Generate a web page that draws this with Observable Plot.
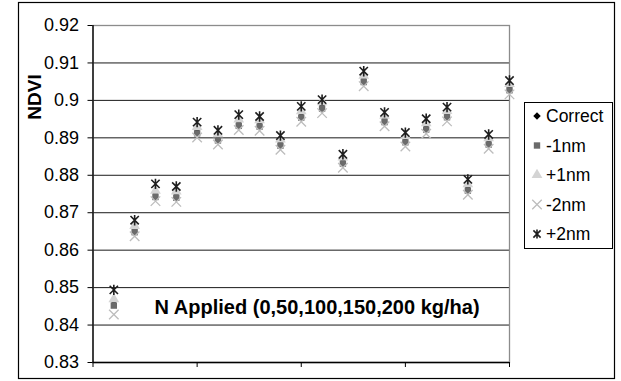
<!DOCTYPE html>
<html><head><meta charset="utf-8">
<script src="https://cdn.jsdelivr.net/npm/d3@7"></script>
<script src="https://cdn.jsdelivr.net/npm/@observablehq/plot@0.6"></script>
<style>
html,body{margin:0;padding:0;background:#fff;}
#chart{position:relative;width:621px;height:381px;}
</style></head><body><div id="chart"></div>
<script>
// ---- data ----
const plotIndex = [1,2,3,4,5,6,7,8,9,10,11,12,13,14,15,16,17,18,19,20];
const correct = [0.8464,0.8660,0.8754,0.8752,0.8924,0.8905,0.8944,0.8942,0.8891,0.8966,0.8990,0.8843,0.9061,0.8954,0.8900,0.8934,0.8967,0.8771,0.8894,0.9039];
const minus1 = [0.8452,0.8648,0.8742,0.8740,0.8912,0.8893,0.8932,0.8930,0.8879,0.8954,0.8978,0.8831,0.9049,0.8942,0.8888,0.8922,0.8955,0.8759,0.8882,0.9027];
const plus1 = [0.8469,0.8665,0.8759,0.8757,0.8929,0.8910,0.8949,0.8947,0.8896,0.8971,0.8995,0.8848,0.9066,0.8959,0.8905,0.8939,0.8972,0.8776,0.8899,0.9044];
const minus2 = [0.8428,0.8637,0.8731,0.8729,0.8901,0.8882,0.8921,0.8919,0.8868,0.8943,0.8966,0.8820,0.9038,0.8931,0.8877,0.8911,0.8944,0.8748,0.8871,0.9016];
const plus2 = [0.8494,0.8680,0.8777,0.8770,0.8942,0.8920,0.8962,0.8957,0.8906,0.8984,0.9002,0.8856,0.9078,0.8968,0.8914,0.8951,0.8982,0.8789,0.8909,0.9053];
const seriesNames = ["Correct","-1nm","+1nm","-2nm","+2nm"];
const yTicks = [0.83,0.84,0.85,0.86,0.87,0.88,0.89,0.90,0.91,0.92];
const xTicks = [0,5,10,15,20];
const yLabel = "NDVI";
const annotationText = "N Applied (0,50,100,150,200 kg/ha)";
const annotationPos = {x: 10.76, y: 0.8447};

// ---- styles ----
const FONT = "'Liberation Sans', Arial, sans-serif";
// Excel-like star marker: an X with a vertical bar
const excelStar = {
  draw(ctx, size) {
    const r = Math.sqrt(size / Math.PI);
    const h = r * 0.8;
    ctx.moveTo(-h, -h); ctx.lineTo(h, h);
    ctx.moveTo(-h, h); ctx.lineTo(h, -h);
    ctx.moveTo(0, -r); ctx.lineTo(0, r);
  }
};
const styles = [
  {symbol: d3.symbolDiamond2, fill: "#000", stroke: "none", r: 3.4},
  {symbol: d3.symbolSquare, fill: "#6b6b6b", stroke: "none", r: 3.6},
  {symbol: d3.symbolTriangle, fill: "#d4d4d4", stroke: "none", r: 4.0},
  {symbol: d3.symbolTimes, fill: "none", stroke: "#bdbdbd", r: 4.4, strokeWidth: 1.3},
  {symbol: excelStar, fill: "none", stroke: "#1e1e1e", r: 5.2, strokeWidth: 1.6}
];
const seriesData = [correct, minus1, plus1, minus2, plus2];

const W = 621, H = 381;
const M = {left: 92.5, right: 112, top: 25, bottom: 19};

const dotMarks = seriesData.map((vals, s) => Plot.dot(plotIndex, {
  x: d => d, y: (d, i) => vals[i],
  symbol: styles[s].symbol, fill: styles[s].fill, stroke: styles[s].stroke,
  r: styles[s].r, strokeWidth: styles[s].strokeWidth || 1
}));

const svg = Plot.plot({
  width: W, height: H,
  marginLeft: M.left, marginRight: M.right, marginTop: M.top, marginBottom: M.bottom,
  style: {fontFamily: FONT, fontSize: "18px", color: "#000", background: "#fff", overflow: "visible"},
  x: {domain: [0, 20]},
  y: {domain: [0.83, 0.92]},
  marks: [
    Plot.ruleY(yTicks.filter(v => v > 0.831 && v < 0.919), {stroke: "#1a1a1a", strokeWidth: 1}),
    Plot.frame({stroke: "#8c8c8c", strokeWidth: 1.3}),
    Plot.ruleX([0], {stroke: "#000", strokeWidth: 1.3}),
    Plot.ruleY([0.83], {stroke: "#000", strokeWidth: 1.3}),
    Plot.axisY({ticks: yTicks, tickSize: 5, tickPadding: 9, stroke: "#000",
      tickFormat: d => String(+d.toFixed(2)), fontSize: 18, fill: "#000", label: null}),
    Plot.axisX({ticks: xTicks, tickSize: 5, stroke: "#000", tickFormat: () => "", label: null}),
    ...dotMarks,
    Plot.text([annotationText], {x: annotationPos.x, y: annotationPos.y, text: d => d,
      fontSize: 20, fontWeight: "bold", fill: "#000", textAnchor: "middle"})
  ]
});

const root = d3.select(svg);
// y-axis title
root.append("text")
  .attr("transform", "translate(34,97) rotate(-90)")
  .attr("text-anchor", "middle").attr("dominant-baseline", "central")
  .style("font-family", FONT).style("font-size", "19px").style("font-weight", "bold")
  .attr("fill", "#000").text(yLabel);

// legend
const lg = root.append("g");
lg.append("rect").attr("x", 524.5).attr("y", 102.5).attr("width", 88).attr("height", 146)
  .attr("fill", "#fff").attr("stroke", "#000").attr("stroke-width", 1);
seriesNames.forEach((name, i) => {
  const cy = 116 + i * 29.5;
  const st = styles[i];
  const sym = d3.symbol().type(st.symbol).size(Math.PI * st.r * st.r * (i === 4 ? 0.75 : 1));
  lg.append("path").attr("d", sym()).attr("transform", `translate(537,${cy})`)
    .attr("fill", st.fill).attr("stroke", st.stroke).attr("stroke-width", st.strokeWidth || 1);
  lg.append("text").attr("x", 546).attr("y", cy).attr("dominant-baseline", "central")
    .attr("text-anchor", "start")
    .style("font-family", FONT).style("font-size", "17.5px").attr("fill", "#000").text(name);
});

// outer chart border
root.append("rect").attr("x", 18.5).attr("y", 2.5).attr("width", 596).attr("height", 376)
  .attr("fill", "none").attr("stroke", "#000").attr("stroke-width", 1.2);

document.getElementById("chart").appendChild(svg);
</script>
</body></html>
